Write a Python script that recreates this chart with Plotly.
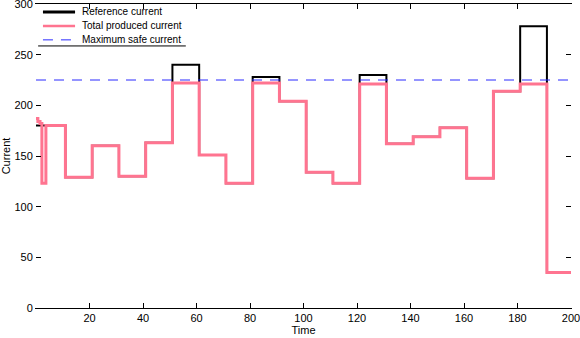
import plotly.graph_objects as go

# Step boundaries (time) and values for each segment
time_points = [0, 0.7, 1.5, 2.2, 3.7, 11, 21, 31, 41, 51, 61, 71, 81, 91, 101,
               111, 121, 131, 141, 151, 161, 171, 181, 191, 200]
produced = [187, 184, 182, 123, 180, 129, 160, 130, 163, 222, 151, 123, 222, 204, 134,
            123, 221, 162, 169, 178, 128, 214, 221, 35, 35]
reference = [180, 180, 180, 180, 180, 129, 160, 130, 163, 240, 151, 123, 228, 204, 134,
             123, 230, 162, 169, 178, 128, 214, 278, 35, 35]
max_safe = 225

x_ticks = [20, 40, 60, 80, 100, 120, 140, 160, 180, 200]
y_ticks = [0, 50, 100, 150, 200, 250, 300]

series_names = ["Reference current", "Total produced current", "Maximum safe current"]
series_colors = ["black", "#ff7490", "#2a2aff"]
series_widths = [2, 3, 1]
series_dash = ["solid", "solid", "10px,8px"]

fig = go.Figure()

fig.add_trace(go.Scatter(
    x=time_points, y=reference, mode="lines", line_shape="hv",
    name=series_names[0], showlegend=False,
    line=dict(color=series_colors[0], width=series_widths[0])
))
fig.add_trace(go.Scatter(
    x=time_points, y=produced, mode="lines", line_shape="hv",
    name=series_names[1], showlegend=False,
    line=dict(color=series_colors[1], width=series_widths[1])
))
fig.add_trace(go.Scatter(
    x=[0, 200], y=[max_safe, max_safe], mode="lines",
    name=series_names[2], showlegend=False,
    line=dict(color=series_colors[2], width=series_widths[2], dash=series_dash[2])
))

# hand-made compact legend (matlab style: only top/bottom rules)
legend_rows = [0.974, 0.928, 0.882]
for name, color, width, dash, ly in zip(series_names, series_colors,
                                        [3, 2.5, 1], series_dash, legend_rows):
    fig.add_shape(type="line", xref="paper", yref="paper",
                  x0=0.013, x1=0.073, y0=ly, y1=ly,
                  line=dict(color=color, width=width, dash=dash))
    fig.add_annotation(x=0.082, y=ly, xref="paper", yref="paper", text=name,
                       showarrow=False, xanchor="left", yanchor="middle",
                       font=dict(size=10, color="black"))
fig.add_shape(type="line", xref="paper", yref="paper",
              x0=0.004, x1=0.28, y0=0.862, y1=0.862,
              line=dict(color="black", width=1))

fig.update_layout(
    width=580, height=338,
    margin=dict(l=36, r=9, t=4, b=30),
    paper_bgcolor="white", plot_bgcolor="white",
    font=dict(family="Liberation Sans, Arial, sans-serif", size=11, color="black"),
    showlegend=False,
)

fig.update_xaxes(
    range=[0, 200], tickvals=x_ticks, ticks="inside", ticklen=5,
    showline=True, linecolor="black", linewidth=1, mirror="ticks",
    tickcolor="black", showgrid=False, zeroline=False, automargin=False,
    ticklabeloverflow="allow",
    title=dict(text="Time", standoff=2, font=dict(size=11)),
)
fig.update_yaxes(
    range=[0, 300], tickvals=y_ticks, ticks="inside", ticklen=5,
    showline=True, linecolor="rgba(0,0,0,0)", mirror="ticks", tickcolor="black",
    showgrid=False, zeroline=False, automargin=False,
    ticklabeloverflow="allow",
    title=dict(text="Current", standoff=4, font=dict(size=11)),
)

# the default page has an 8px body margin; drop it so the figure fills the window
fig.write_html("out.html", config={"displayModeBar": False},
               post_script="document.body.style.margin='0';")
